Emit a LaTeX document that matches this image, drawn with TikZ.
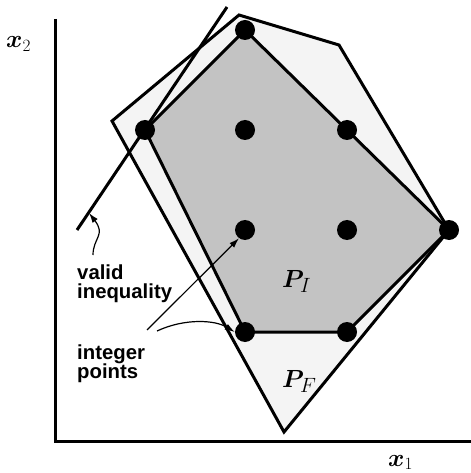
\documentclass[tikz,border=0pt]{standalone}
\usepackage{fontspec}
\usepackage{bm}
\usetikzlibrary{arrows.meta}
\newfontfamily\labelfont{Liberation Sans}
\definecolor{pfgray}{gray}{0.957}
\definecolor{pigray}{gray}{0.765}
\begin{document}
\begin{tikzpicture}[x=1bp,y=-1bp,
  edge/.style={line width=3bp, line join=miter},
  dot/.style={circle, fill=black, minimum size=20bp, inner sep=0},
  lbl/.style={font=\labelfont\bfseries\fontsize{20.4}{20}\selectfont, inner sep=0, anchor=base west},
  xlbl/.style={font=\fontsize{24}{26}\selectfont, inner sep=0, anchor=base west},
  plbl/.style={font=\fontsize{28}{30}\selectfont, inner sep=0, anchor=base west},
  ptr/.style={line width=1.2bp, -{Latex[length=10bp,width=6.5bp]}}]
\useasboundingbox (0,0) rectangle (471,473);
% axes
\coordinate (ytop) at (55,19);
\coordinate (orig) at (55,441);
\coordinate (xend) at (471,441);
\draw[edge] (ytop) -- (orig) -- (xend);
% integer point positions
\coordinate (pa) at (245,30);
\coordinate (pb) at (145,130);
\coordinate (pc) at (245,130);
\coordinate (pd) at (347,130);
\coordinate (pe) at (245,230);
\coordinate (pf) at (347,230);
\coordinate (pg) at (449,230);
\coordinate (ph) at (245,332);
\coordinate (pi) at (347,332);
% P_F
\coordinate (f1) at (112,121);
\coordinate (f2) at (239,15);
\coordinate (f3) at (339,45);
\coordinate (f5) at (284,432);
\filldraw[edge, fill=pfgray] (f1) -- (f2) -- (f3) -- (pg) -- (f5) -- cycle;
% P_I
\filldraw[edge, fill=pigray] (pb) -- (pa) -- (pd) -- (pg) -- (pi) -- (ph) -- cycle;
% valid inequality
\coordinate (vlo) at (77,230);
\coordinate (vhi) at (227,7);
\draw[line width=3bp] (vlo) -- (vhi);
% dots
\foreach \n in {a,b,c,d,e,f,g,h,i} \node[dot] (\n) at (p\n) {};
% labels
\node[xlbl] (x2) at (6,48) {$\bm{x}_2$};
\node[xlbl] (x1) at (388,466) {$\bm{x}_1$};
\node[plbl] (PI) at (282,287) {$\bm{P}_I$};
\node[plbl] (PF) at (282,387) {$\bm{P}_F$};
\node[lbl] (valid) at (77,279) {valid};
\node[lbl] (ineq) at (77,298) {inequality};
\node[lbl] (integ) at (77,359) {integer};
\node[lbl] (points) at (77,378) {points};
% pointers
\coordinate (vstart) at (93,255);
\coordinate (vtip) at (89,213);
\draw[ptr] (vstart) .. controls (93,238) and (106,235) .. (vtip);
\coordinate (is1) at (147,330);
\coordinate (is2) at (157,331);
\draw[ptr] (is1) -- (e.234);
\draw[ptr] (is2) .. controls (185,318) and (215,320) .. (h.180);
\end{tikzpicture}
\end{document}
